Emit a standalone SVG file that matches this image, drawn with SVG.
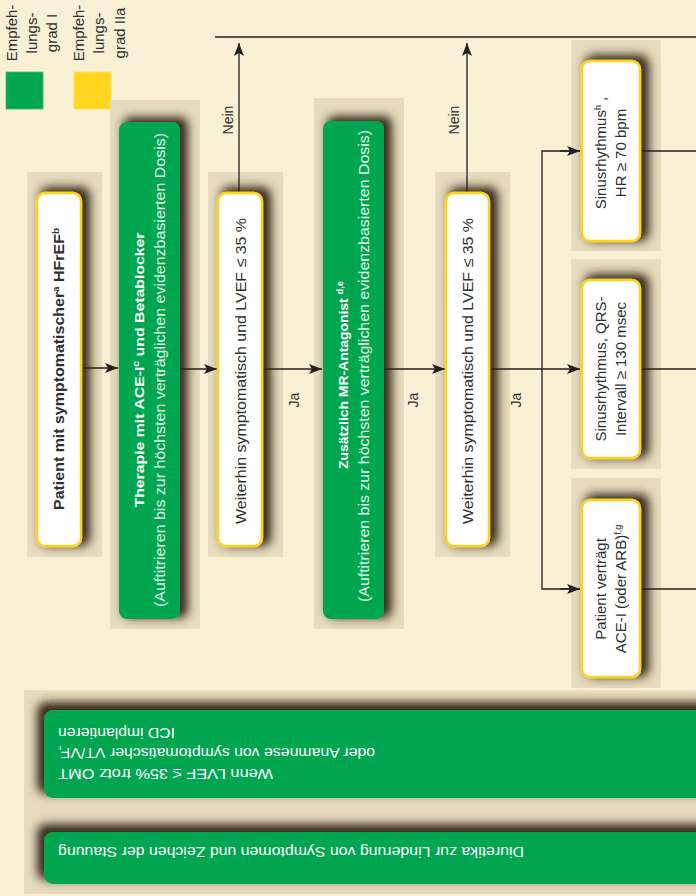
<svg xmlns="http://www.w3.org/2000/svg" width="696" height="896" viewBox="0 0 696 896">
  <defs>
    <style>
      .bg { fill: #FAF0D5; }
      .panel { fill: #E6DBBE; }
      .wbox { fill: #FFFFFF; stroke: #FFD21F; stroke-width: 2.5; }
      .gbox { fill: #00A650; }
      .t { font-family: "Liberation Sans", Arial, sans-serif; fill: #2f2f2f; }
      .reg { font-size: 15px; }
      .bold { font-weight: bold; }
      .wt { fill: #FFFFFF; }
      .lt { fill: #E3F4E6; }
      .lbl { font-family: "Liberation Sans", Arial, sans-serif; font-size: 14px; fill: #2f2f2f; }
      .conn { stroke: #231F20; stroke-width: 1.3; fill: none; }
      .sup { font-size: 9px; }
    </style>
    <marker id="ah" markerUnits="userSpaceOnUse" markerWidth="14" markerHeight="10" refX="13" refY="5" orient="auto">
      <path d="M0,0 L13,5 L0,10 L3,5 Z" fill="#231F20"/>
    </marker>
    <!-- broad brown shadow falling to the right -->
    <filter id="shR" filterUnits="objectBoundingBox" x="-100%" y="-20%" width="300%" height="140%">
      <feMorphology in="SourceAlpha" operator="dilate" radius="2" result="grow"/>
      <feOffset in="grow" dx="6" dy="-3" result="off"/>
      <feGaussianBlur in="off" stdDeviation="5" result="blur"/>
      <feFlood flood-color="#2e2214" flood-opacity="0.95"/>
      <feComposite in2="blur" operator="in" result="shadow"/>
      <feMerge>
        <feMergeNode in="shadow"/>
        <feMergeNode in="SourceGraphic"/>
      </feMerge>
    </filter>
    <!-- shadow for the upside-down boxes at the bottom -->
    <filter id="shU" filterUnits="objectBoundingBox" x="-10%" y="-60%" width="120%" height="220%">
      <feMorphology in="SourceAlpha" operator="dilate" radius="2" result="grow"/>
      <feOffset in="grow" dx="-5" dy="-6" result="off"/>
      <feGaussianBlur in="off" stdDeviation="5" result="blur"/>
      <feFlood flood-color="#2e2214" flood-opacity="0.95"/>
      <feComposite in2="blur" operator="in" result="shadow"/>
      <feMerge>
        <feMergeNode in="shadow"/>
        <feMergeNode in="SourceGraphic"/>
      </feMerge>
    </filter>
  </defs>

  <rect class="bg" x="0" y="0" width="696" height="896"/>

  <!-- legend -->
  <g id="legend">
    <g class="t reg" text-anchor="middle">
      <text transform="translate(16.5,33) rotate(-90)">Empfeh-</text>
      <text transform="translate(36.5,33) rotate(-90)">lungs-</text>
      <text transform="translate(56.5,33) rotate(-90)">grad I</text>
      <text transform="translate(84,33) rotate(-90)">Empfeh-</text>
      <text transform="translate(104,33) rotate(-90)">lungs-</text>
      <text transform="translate(124.5,33) rotate(-90)">grad IIa</text>
    </g>
    <rect x="6" y="72" width="37" height="37" fill="#00A650" stroke="#3fbf6f" stroke-width="0.8"/>
    <rect x="74" y="72" width="37" height="37" fill="#FFD520" stroke="#ffe060" stroke-width="0.8"/>
  </g>

  <!-- background panels behind nodes -->
  <g id="panels">
    <rect class="panel" x="27" y="172" width="75" height="385"/>
    <rect class="panel" x="110" y="100" width="90" height="529"/>
    <rect class="panel" x="208" y="172" width="75" height="385"/>
    <rect class="panel" x="314" y="98" width="90" height="531"/>
    <rect class="panel" x="435" y="172" width="75" height="385"/>
    <rect class="panel" x="571" y="40" width="90" height="211"/>
    <rect class="panel" x="571" y="259" width="90" height="210"/>
    <rect class="panel" x="571" y="478" width="90" height="210"/>
    <rect class="panel" x="24" y="690" width="672" height="204"/>
  </g>

  <!-- connectors -->
  <g id="connectors">
    <line class="conn" x1="215" y1="37" x2="696" y2="37"/>
    <line class="conn" x1="81" y1="368" x2="118" y2="368" marker-end="url(#ah)"/>
    <line class="conn" x1="180" y1="369" x2="217" y2="369" marker-end="url(#ah)"/>
    <line class="conn" x1="262" y1="369" x2="322" y2="369" marker-end="url(#ah)"/>
    <line class="conn" x1="239" y1="194" x2="239" y2="43" marker-end="url(#ah)"/>
    <line class="conn" x1="384" y1="369" x2="445" y2="369" marker-end="url(#ah)"/>
    <line class="conn" x1="467" y1="194" x2="467" y2="43" marker-end="url(#ah)"/>
    <line class="conn" x1="489" y1="369" x2="580" y2="369" marker-end="url(#ah)"/>
    <polyline class="conn" points="580,151 542,151 542,589 580,589"/>
    <line class="conn" x1="560" y1="151" x2="580" y2="151" marker-end="url(#ah)"/>
    <line class="conn" x1="560" y1="589" x2="580" y2="589" marker-end="url(#ah)"/>
    <line class="conn" x1="640" y1="151" x2="696" y2="151"/>
    <line class="conn" x1="640" y1="369" x2="696" y2="369"/>
    <line class="conn" x1="640" y1="589" x2="696" y2="589"/>
    <g class="lbl" text-anchor="middle">
      <text transform="translate(233,120) rotate(-90)">Nein</text>
      <text transform="translate(459,120) rotate(-90)">Nein</text>
      <text transform="translate(299,400) rotate(-90)">Ja</text>
      <text transform="translate(418,400) rotate(-90)">Ja</text>
      <text transform="translate(521,400) rotate(-90)">Ja</text>
    </g>
  </g>

  <!-- start node -->
  <g id="n-start">
    <rect class="wbox" x="37" y="193" width="44" height="353" rx="8" filter="url(#shR)"/>
    <text class="t bold" font-size="14.5" text-anchor="middle" textLength="282" lengthAdjust="spacingAndGlyphs" transform="translate(64,369) rotate(-90)">Patient mit symptomatischer<tspan class="sup" dy="-5">a</tspan><tspan dy="5"> HFrEF</tspan><tspan class="sup" dy="-5">b</tspan></text>
  </g>

  <!-- ACE-I and beta blocker -->
  <g id="n-acei">
    <rect class="gbox" x="119" y="122" width="61" height="497" rx="8" filter="url(#shR)"/>
    <text class="t bold wt" font-size="13.5" text-anchor="middle" textLength="275" lengthAdjust="spacingAndGlyphs" transform="translate(143.5,370) rotate(-90)">Therapie mit ACE-I<tspan class="sup" dy="-5">c</tspan><tspan dy="5"> und Betablocker</tspan></text>
    <text class="t reg lt" text-anchor="middle" textLength="474" lengthAdjust="spacingAndGlyphs" transform="translate(164.5,370) rotate(-90)">(Auftitrieren bis zur höchsten verträglichen evidenzbasierten Dosis)</text>
  </g>

  <!-- first check -->
  <g id="n-check1">
    <rect class="wbox" x="218" y="193" width="44" height="353" rx="8" filter="url(#shR)"/>
    <text class="t reg" text-anchor="middle" textLength="306" lengthAdjust="spacingAndGlyphs" transform="translate(245.5,371) rotate(-90)">Weiterhin symptomatisch und LVEF ≤ 35 %</text>
  </g>

  <!-- MR antagonist -->
  <g id="n-mra">
    <rect class="gbox" x="323" y="121" width="61" height="498" rx="8" filter="url(#shR)"/>
    <text class="t bold wt" font-size="13.5" text-anchor="middle" textLength="188" lengthAdjust="spacingAndGlyphs" transform="translate(348,375) rotate(-90)">Zusätzlich MR-Antagonist <tspan class="sup" dy="-5">d,e</tspan></text>
    <text class="t reg lt" text-anchor="middle" textLength="472" lengthAdjust="spacingAndGlyphs" transform="translate(368.5,366) rotate(-90)">(Auftitrieren bis zur höchsten verträglichen evidenzbasierten Dosis)</text>
  </g>

  <!-- second check -->
  <g id="n-check2">
    <rect class="wbox" x="446" y="193" width="43" height="353" rx="8" filter="url(#shR)"/>
    <text class="t reg" text-anchor="middle" textLength="306" lengthAdjust="spacingAndGlyphs" transform="translate(473,371) rotate(-90)">Weiterhin symptomatisch und LVEF ≤ 35 %</text>
  </g>

  <!-- sinus rhythm, heart rate -->
  <g id="n-hr">
    <rect class="wbox" x="582" y="61" width="58" height="180" rx="8" filter="url(#shR)"/>
    <g class="t reg" text-anchor="middle">
      <text transform="translate(606,153) rotate(-90)">Sinusrhythmus<tspan class="sup" dy="-5">h</tspan><tspan dy="5"> ,</tspan></text>
      <text transform="translate(626,153) rotate(-90)">HR ≥ 70 bpm</text>
    </g>
  </g>

  <!-- sinus rhythm, QRS -->
  <g id="n-qrs">
    <rect class="wbox" x="582" y="280" width="58" height="178" rx="8" filter="url(#shR)"/>
    <g class="t reg" text-anchor="middle">
      <text transform="translate(606,369) rotate(-90)">Sinusrhythmus, QRS-</text>
      <text transform="translate(626,369) rotate(-90)">Intervall ≥ 130 msec</text>
    </g>
  </g>

  <!-- ACE-I tolerated -->
  <g id="n-tol">
    <rect class="wbox" x="582" y="500" width="58" height="177" rx="8" filter="url(#shR)"/>
    <g class="t reg" text-anchor="middle">
      <text transform="translate(606,589) rotate(-90)">Patient verträgt</text>
      <text transform="translate(626,589) rotate(-90)">ACE-I (oder ARB)<tspan class="sup" dy="-5">f,g</tspan></text>
    </g>
  </g>

  <!-- ICD box (upside down) -->
  <g id="n-icd">
    <rect class="gbox" x="44" y="710" width="700" height="88" rx="9" filter="url(#shU)"/>
    <g class="t reg wt" text-anchor="end">
      <text transform="translate(58,768.5) rotate(180)" textLength="215" lengthAdjust="spacingAndGlyphs">Wenn LVEF ≤ 35% trotz OMT</text>
      <text transform="translate(58,748) rotate(180)" textLength="317" lengthAdjust="spacingAndGlyphs">oder Anamnese von symptomatischer VT/VF,</text>
      <text transform="translate(58,727.5) rotate(180)" textLength="117" lengthAdjust="spacingAndGlyphs">ICD implantieren</text>
    </g>
  </g>

  <!-- diuretics box (upside down) -->
  <g id="n-diur">
    <rect class="gbox" x="44" y="832" width="700" height="52" rx="9" filter="url(#shU)"/>
    <text class="t reg wt" text-anchor="end" transform="translate(58,846.5) rotate(180)" textLength="466" lengthAdjust="spacingAndGlyphs">Diuretika zur Linderung von Symptomen und Zeichen der Stauung</text>
  </g>
</svg>
